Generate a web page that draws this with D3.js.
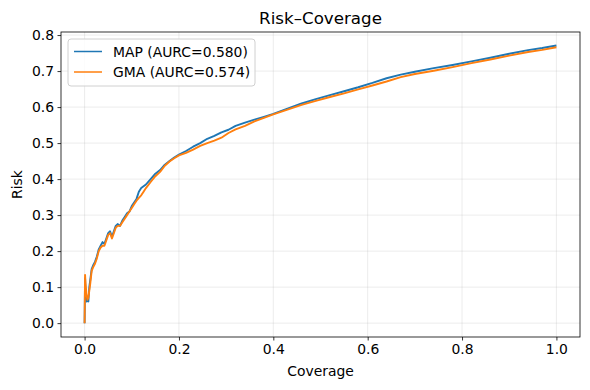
<!DOCTYPE html>
<html>
<head>
<meta charset="utf-8">
<script src="https://cdn.jsdelivr.net/npm/d3@7"></script>
<style>
  body { margin: 0; background: #fff; }
  svg { font-family: "DejaVu Sans", sans-serif; }
</style>
</head>
<body>
<div id="chart"></div>
<script>
// Risk-coverage curves for two methods.
const coverage = [
  0, 0.001, 0.002, 0.004, 0.006, 0.008, 0.010, 0.012, 0.015, 0.018, 0.022, 0.026,
  0.030, 0.034, 0.038, 0.042, 0.046, 0.050, 0.054, 0.058, 0.062, 0.066, 0.070,
  0.075, 0.080, 0.085, 0.090, 0.095, 0.100, 0.105, 0.110, 0.115, 0.120, 0.125,
  0.130, 0.140, 0.150, 0.160, 0.170, 0.180, 0.190, 0.200, 0.215, 0.230, 0.245,
  0.260, 0.275, 0.290, 0.305, 0.320, 0.340, 0.360, 0.380, 0.400, 0.430, 0.460,
  0.490, 0.520, 0.550, 0.580, 0.610, 0.640, 0.670, 0.700, 0.740, 0.780, 0.820,
  0.860, 0.900, 0.940, 0.970, 1.000
];
const riskMAP = [
  0.0, 0.125, 0.09, 0.06, 0.065, 0.06, 0.10, 0.12, 0.15, 0.16, 0.17, 0.185,
  0.205, 0.215, 0.225, 0.22, 0.235, 0.25, 0.255, 0.24, 0.255, 0.27, 0.275,
  0.27, 0.285, 0.295, 0.305, 0.31, 0.325, 0.335, 0.345, 0.365, 0.375, 0.38,
  0.385, 0.40, 0.415, 0.425, 0.44, 0.45, 0.46, 0.468, 0.478, 0.49, 0.50,
  0.512, 0.52, 0.53, 0.537, 0.548, 0.557, 0.565, 0.573, 0.581, 0.596, 0.610,
  0.622, 0.633, 0.644, 0.655, 0.667, 0.680, 0.690, 0.698, 0.708, 0.717, 0.727,
  0.737, 0.748, 0.758, 0.764, 0.771
];
const riskGMA = [
  0.0, 0.134, 0.11, 0.08, 0.065, 0.07, 0.09, 0.11, 0.145, 0.155, 0.165, 0.18,
  0.20, 0.21, 0.215, 0.215, 0.23, 0.245, 0.25, 0.235, 0.25, 0.265, 0.27,
  0.27, 0.28, 0.29, 0.30, 0.31, 0.32, 0.33, 0.34, 0.348, 0.355, 0.365,
  0.375, 0.392, 0.408, 0.42, 0.437, 0.449, 0.458, 0.466, 0.473, 0.482, 0.492,
  0.50, 0.507, 0.515, 0.528, 0.538, 0.548, 0.56, 0.57, 0.58, 0.593, 0.606,
  0.617, 0.628, 0.638, 0.649, 0.660, 0.671, 0.683, 0.692, 0.701, 0.711, 0.722,
  0.732, 0.743, 0.753, 0.759, 0.766
];
const seriesNames = ["MAP (AURC=0.580)", "GMA (AURC=0.574)"];
const seriesColors = ["#1f77b4", "#ff7f0e"];
const xTicks = [0.0, 0.2, 0.4, 0.6, 0.8, 1.0];
const yTicks = [0.0, 0.1, 0.2, 0.3, 0.4, 0.5, 0.6, 0.7, 0.8];

const W = 590, H = 390;
const m = { left: 61, right: 10, top: 32, bottom: 53 };

const svg = d3.select("#chart").append("svg")
  .attr("width", W).attr("height", H);

const x = d3.scaleLinear().domain([-0.05, 1.05]).range([m.left, W - m.right]);
const y = d3.scaleLinear().domain([-0.0385, 0.8085]).range([H - m.bottom, m.top]);

// grid
const grid = svg.append("g").attr("stroke", "#b0b0b0").attr("stroke-opacity", 0.3).attr("stroke-width", 0.8);
grid.selectAll("line.v").data(xTicks).join("line")
  .attr("x1", d => x(d)).attr("x2", d => x(d))
  .attr("y1", m.top).attr("y2", H - m.bottom);
grid.selectAll("line.h").data(yTicks).join("line")
  .attr("y1", d => y(d)).attr("y2", d => y(d))
  .attr("x1", m.left).attr("x2", W - m.right);

// curves
const series = [riskMAP, riskGMA];
const line = d3.line().x(d => x(d[0])).y(d => y(d[1]));
const plot = svg.append("g");
series.forEach((r, i) => {
  plot.append("path")
    .datum(coverage.map((c, j) => [c, r[j]]))
    .attr("fill", "none")
    .attr("stroke", seriesColors[i])
    .attr("stroke-width", 1.9)
    .attr("stroke-linejoin", "round")
    .attr("d", line);
});

// axes
const xAxis = svg.append("g").attr("transform", `translate(0,${H - m.bottom})`)
  .call(d3.axisBottom(x).tickValues(xTicks).tickFormat(d3.format(".1f")).tickSizeOuter(0).tickSize(3.5).tickPadding(3.5));
const yAxis = svg.append("g").attr("transform", `translate(${m.left},0)`)
  .call(d3.axisLeft(y).tickValues(yTicks).tickFormat(d3.format(".1f")).tickSizeOuter(0).tickSize(3.5).tickPadding(3.5));
[xAxis, yAxis].forEach(a => {
  a.select(".domain").remove();
  a.selectAll(".tick line").attr("stroke", "#000").attr("stroke-width", 0.8);
  a.selectAll(".tick text").attr("fill", "#000").attr("font-size", 13.9)
    .attr("font-family", "DejaVu Sans, sans-serif");
});

// spines
svg.append("rect")
  .attr("x", m.left).attr("y", m.top)
  .attr("width", W - m.left - m.right).attr("height", H - m.top - m.bottom)
  .attr("fill", "none").attr("stroke", "#000").attr("stroke-width", 0.8);

// title and labels
svg.append("text").attr("x", (m.left + W - m.right) / 2).attr("y", 24)
  .attr("text-anchor", "middle").attr("font-size", 16.7).text("Risk–Coverage");
svg.append("text").attr("x", (m.left + W - m.right) / 2).attr("y", 376)
  .attr("text-anchor", "middle").attr("font-size", 13.9).text("Coverage");
svg.append("text")
  .attr("transform", `translate(22,${(m.top + H - m.bottom) / 2}) rotate(-90)`)
  .attr("text-anchor", "middle").attr("font-size", 13.9).text("Risk");

// legend
const lg = svg.append("g").attr("transform", `translate(${m.left + 7},${m.top + 7})`);
lg.append("rect").attr("width", 187).attr("height", 47).attr("rx", 3)
  .attr("fill", "#fff").attr("fill-opacity", 0.8)
  .attr("stroke", "#d0d0d0").attr("stroke-width", 1);
seriesNames.forEach((name, i) => {
  const cy = 12.5 + i * 20.5;
  lg.append("line").attr("x1", 6).attr("x2", 34).attr("y1", cy).attr("y2", cy)
    .attr("stroke", seriesColors[i]).attr("stroke-width", 1.5);
  lg.append("text").attr("x", 45).attr("y", cy + 5).attr("font-size", 13.9).text(name);
});
</script>
</body>
</html>
